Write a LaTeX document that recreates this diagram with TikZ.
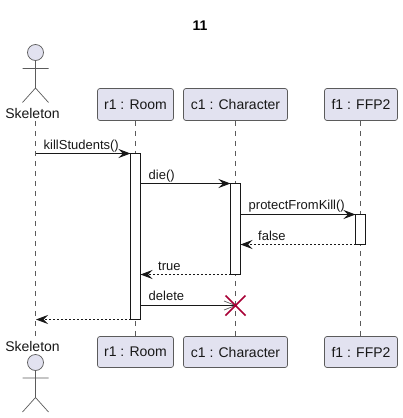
\documentclass[tikz,border=0pt]{standalone}
\usepackage{fontspec}
\setmainfont{Liberation Sans}
\usetikzlibrary{arrows.meta}
\definecolor{boxfill}{HTML}{E2E2F0}
\definecolor{edge}{HTML}{5B5B5B}
\definecolor{ink}{HTML}{181818}
\definecolor{cross}{HTML}{A80036}
\tikzset{
  participant/.style={draw=edge,fill=boxfill,rounded corners=2.5pt,line width=0.7pt,minimum height=32pt,inner sep=0pt,font=\fontsize{14}{16}\selectfont,text=ink},
  lifeline/.style={draw=edge,line width=0.7pt,dash pattern=on 5pt off 5pt},
  bar/.style={draw=ink,fill=white,line width=0.9pt,minimum width=10pt,inner sep=0pt,outer sep=0pt},
  msg/.style={draw=ink,line width=0.9pt,-{Stealth[length=12pt,width=9pt,inset=4.5pt,color=ink]}},
  ret/.style={msg,dash pattern=on 2pt off 2pt},
  lbl/.style={anchor=base west,inner sep=0pt,font=\fontsize{13}{15}\selectfont,text=ink},
  actorname/.style={inner sep=0pt,anchor=base,font=\fontsize{14}{16}\selectfont,text=ink},
  limb/.style={draw=edge,line width=0.7pt},
  head/.style={circle,draw=edge,fill=boxfill,line width=0.7pt,minimum size=16pt,inner sep=0pt}
}
\begin{document}
\begin{tikzpicture}[x=1pt,y=-1pt]
\useasboundingbox[fill=white] (0,0) rectangle (402,418);
\node[anchor=base,inner sep=0pt,font=\fontsize{14}{16}\selectfont\bfseries,text=black] (title) at (200,30) {11};
% participants
\node[participant,minimum width=76pt] (r1) at (135.5,104.5) {r1 : Room};
\node[participant,minimum width=104pt] (c1) at (235.5,104.5) {c1 : Character};
\node[participant,minimum width=73pt] (f1) at (361,104.5) {f1 : FFP2};
\node[participant,minimum width=76pt,minimum height=31pt] (r1b) at (135.5,352) {r1 : Room};
\node[participant,minimum width=104pt,minimum height=31pt] (c1b) at (235.5,352) {c1 : Character};
\node[participant,minimum width=73pt,minimum height=31pt] (f1b) at (361,352) {f1 : FFP2};
% actors
\node[actorname] (sk) at (32.5,118) {Skeleton};
\node[actorname] (skb) at (32.5,351.5) {Skeleton};
\node[head] (h1) at (35.5,52.5) {};
\node[head] (h2) at (35.5,362.5) {};
\coordinate (hip1) at (35.5,88);
\coordinate (hip2) at (35.5,397.5);
\draw[limb] (h1.south) -- (hip1) (22.5,68.5) -- (48.5,68.5) (22.5,102.5) -- (hip1) -- (48.5,102.5);
\draw[limb] (h2.south) -- (hip2) (22.5,378) -- (48.5,378) (22.5,412) -- (hip2) -- (48.5,412);
% lifelines
\coordinate (skTop) at (35.5,121);
\coordinate (skBot) at (35.5,336);
\draw[lifeline] (skTop) -- (skBot);
\draw[lifeline] (r1.south) -- (r1b.north);
\draw[lifeline] (c1.south) -- (c1b.north);
\draw[lifeline] (f1.south -| 360.5,0) -- (f1b.north -| 360.5,0);
% activations
\node[bar,minimum height=166pt] (ar) at (135.5,236.5) {};
\node[bar,minimum height=91pt] (ac) at (235.5,229) {};
\node[bar,minimum height=30pt] (af) at (360.5,229.5) {};
% messages
\coordinate (s1) at (35.5,153.5);
\coordinate (s2) at (36,319.5);
\coordinate (x) at (235.5,305.5);
\coordinate (d1) at (140.5,183.5);
\coordinate (b1) at (224,301);
\coordinate (b2) at (224,310);
\draw[msg] (s1) -- (ar.north west);
\draw[msg] (d1) -- (ac.north west);
\draw[msg] (ac.east |- af.north) -- (af.north west);
\draw[ret] (af.south west) -- (ac.east |- af.south);
\draw[ret] (ac.south west) -- (ar.east |- ac.south);
\draw[draw=ink,line width=0.9pt] (ar.east |- x) -- (x);
\draw[limb] (b1) -- (x) -- (b2);
\draw[ret] (ar.south west) -- (s2);
% labels
\node[lbl] (l1) at (43.5,149) {killStudents()};
\node[lbl] (l2) at (148.5,179) {die()};
\node[lbl] (l3) at (248.5,209.5) {protectFromKill()};
\node[lbl] (l4) at (258,240) {false};
\node[lbl] (l5) at (158,270) {true};
\node[lbl] (l6) at (148.5,300.5) {delete};
% destroy
\draw[cross,line width=1.5pt] (225.5,295.5) -- (245.5,315.5) (225.5,315.5) -- (245.5,295.5);
\end{tikzpicture}
\end{document}
